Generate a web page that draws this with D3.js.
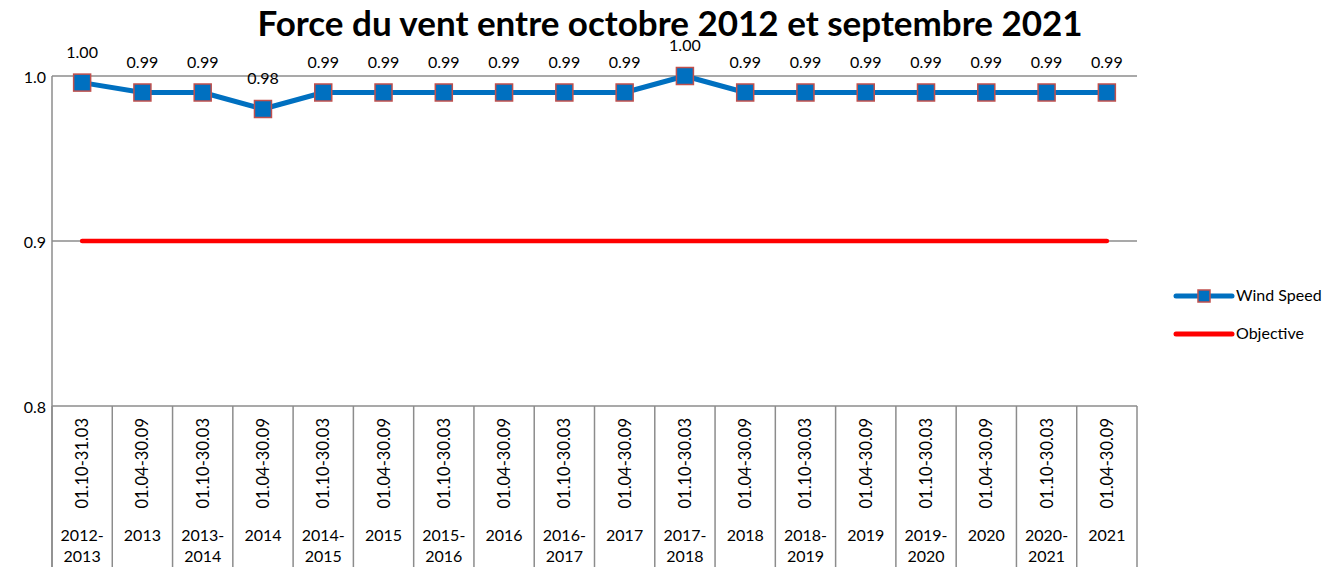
<!DOCTYPE html>
<html>
<head>
<meta charset="utf-8">
<script src="https://cdn.jsdelivr.net/npm/d3@7"></script>
<style>
  body { margin: 0; background: #fff; }
  text { font-family: Lato, "Open Sans", sans-serif; fill: #000; }
</style>
</head>
<body>
<svg id="chart" width="1331" height="567"></svg>
<script>
var periods = ["01.10-31.03", "01.04-30.09", "01.10-30.03", "01.04-30.09", "01.10-30.03", "01.04-30.09",
    "01.10-30.03", "01.04-30.09", "01.10-30.03", "01.04-30.09", "01.10-30.03", "01.04-30.09",
    "01.10-30.03", "01.04-30.09", "01.10-30.03", "01.04-30.09", "01.10-30.03", "01.04-30.09"];
var years = [["2012-", "2013"], ["2013"], ["2013-", "2014"], ["2014"], ["2014-", "2015"], ["2015"],
    ["2015-", "2016"], ["2016"], ["2016-", "2017"], ["2017"], ["2017-", "2018"], ["2018"],
    ["2018-", "2019"], ["2019"], ["2019-", "2020"], ["2020"], ["2020-", "2021"], ["2021"]];
var windSpeed = [0.996, 0.99, 0.99, 0.98, 0.99, 0.99, 0.99, 0.99, 0.99, 0.99, 1.00, 0.99, 0.99, 0.99, 0.99, 0.99, 0.99, 0.99];
var objective = [0.9, 0.9, 0.9, 0.9, 0.9, 0.9, 0.9, 0.9, 0.9, 0.9, 0.9, 0.9, 0.9, 0.9, 0.9, 0.9, 0.9, 0.9];
var yTicks = [0.8, 0.9, 1.0];

var svg = d3.select("#chart");
var plotLeft = 52, plotRight = 1137, plotTop = 76, plotBottom = 406;
var gridColor = "#8c8c8c";

var idx = d3.range(periods.length);
var xScale = d3.scaleBand().domain(idx).range([plotLeft, plotRight]);
var yScale = d3.scaleLinear().domain([0.8, 1.0]).range([plotBottom, plotTop]);
var cx = function (i) { return xScale(i) + xScale.bandwidth() / 2; };

// title
svg.append("text")
    .attr("x", 670)
    .attr("y", 36)
    .attr("text-anchor", "middle")
    .style("font-size", "35px")
    .style("font-weight", "bold")
    .text("Force du vent entre octobre 2012 et septembre 2021");

// gridlines
svg.append("g")
    .selectAll("line")
    .data(yTicks)
    .enter()
    .append("line")
    .attr("x1", plotLeft)
    .attr("x2", plotRight)
    .attr("y1", function (d) { return yScale(d); })
    .attr("y2", function (d) { return yScale(d); })
    .attr("stroke", gridColor)
    .attr("stroke-width", 1.5);

// y axis line and labels
svg.append("line")
    .attr("x1", plotLeft).attr("x2", plotLeft)
    .attr("y1", plotTop).attr("y2", 567)
    .attr("stroke", gridColor)
    .attr("stroke-width", 1.5);

svg.append("g")
    .selectAll("text")
    .data(yTicks)
    .enter()
    .append("text")
    .attr("x", 46)
    .attr("y", function (d) { return yScale(d) + 7; })
    .attr("text-anchor", "end")
    .style("font-size", "16px")
    .text(function (d) { return d3.format(".1f")(d); });

// category dividers
svg.append("g")
    .selectAll("line")
    .data(idx.concat([periods.length]))
    .enter()
    .append("line")
    .attr("x1", function (i) { return i < periods.length ? xScale(i) : plotRight; })
    .attr("x2", function (i) { return i < periods.length ? xScale(i) : plotRight; })
    .attr("y1", plotBottom)
    .attr("y2", 567)
    .attr("stroke", gridColor)
    .attr("stroke-width", 1.5);

// rotated period labels
svg.append("g")
    .selectAll("text")
    .data(periods)
    .enter()
    .append("text")
    .attr("transform", function (d, i) {
        return "translate(" + (cx(i) + 6) + "," + 418 + ") rotate(-90)";
    })
    .attr("text-anchor", "end")
    .style("font-size", "16.5px")
    .text(function (d) { return d; });

// year labels
var yearG = svg.append("g")
    .selectAll("text")
    .data(years)
    .enter()
    .append("text")
    .attr("text-anchor", "middle")
    .style("font-size", "16px");

yearG.selectAll("tspan")
    .data(function (d, i) {
        return d.map(function (t, k) { return { t: t, k: k, i: i }; });
    })
    .enter()
    .append("tspan")
    .attr("x", function (d) { return cx(d.i); })
    .attr("y", function (d) { return 541 + d.k * 21; })
    .text(function (d) { return d.t; });

// objective line
svg.append("path")
    .datum(objective)
    .attr("fill", "none")
    .attr("stroke", "#ff0000")
    .attr("stroke-width", 4.5)
    .attr("stroke-linecap", "round")
    .attr("d", d3.line()
        .x(function (d, i) { return cx(i); })
        .y(function (d) { return yScale(d); }));

// wind speed line
svg.append("path")
    .datum(windSpeed)
    .attr("fill", "none")
    .attr("stroke", "#0070c0")
    .attr("stroke-width", 5)
    .attr("stroke-linejoin", "round")
    .attr("d", d3.line()
        .x(function (d, i) { return cx(i); })
        .y(function (d) { return yScale(d); }));

var ms = 17;
svg.append("g")
    .selectAll("rect")
    .data(windSpeed)
    .enter()
    .append("rect")
    .attr("x", function (d, i) { return cx(i) - ms / 2; })
    .attr("y", function (d) { return yScale(d) - ms / 2; })
    .attr("width", ms)
    .attr("height", ms)
    .attr("fill", "#0070c0")
    .attr("stroke", "#c0504d")
    .attr("stroke-width", 1.5);

// data labels
svg.append("g")
    .selectAll("text")
    .data(windSpeed)
    .enter()
    .append("text")
    .attr("x", function (d, i) { return cx(i); })
    .attr("y", function (d) { return yScale(d) - 25; })
    .attr("text-anchor", "middle")
    .style("font-size", "16px")
    .text(function (d) { return d3.format(".2f")(d); });

// legend
var legend = svg.append("g").attr("transform", "translate(1176,0)");
legend.append("line")
    .attr("x1", 0).attr("x2", 56).attr("y1", 296).attr("y2", 296)
    .attr("stroke", "#0070c0").attr("stroke-width", 5).attr("stroke-linecap", "round");
legend.append("rect")
    .attr("x", 28 - 6).attr("y", 296 - 6).attr("width", 12).attr("height", 12)
    .attr("fill", "#0070c0").attr("stroke", "#c0504d").attr("stroke-width", 1.5);
legend.append("text")
    .attr("x", 60).attr("y", 301)
    .style("font-size", "16px")
    .text("Wind Speed");
legend.append("line")
    .attr("x1", 0).attr("x2", 56).attr("y1", 334).attr("y2", 334)
    .attr("stroke", "#ff0000").attr("stroke-width", 5).attr("stroke-linecap", "round");
legend.append("text")
    .attr("x", 60).attr("y", 339)
    .style("font-size", "16px")
    .text("Objective");
</script>
</body>
</html>
